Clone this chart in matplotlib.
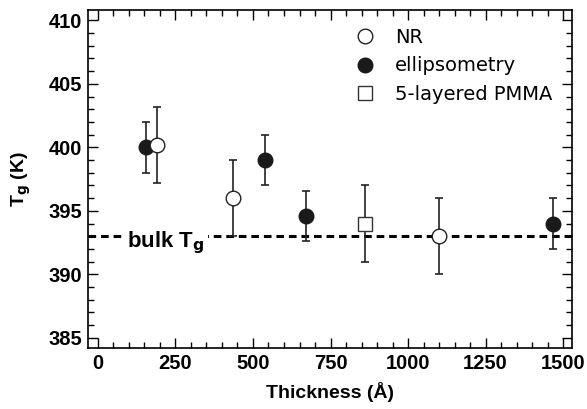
import matplotlib
matplotlib.use("Agg")
import matplotlib.pyplot as plt
from matplotlib.ticker import MultipleLocator

# data
nr_thick = [189, 435, 1100]
nr_tg = [400.2, 396.0, 393.0]
nr_err = [3.0, 3.0, 3.0]

ell_thick = [155, 539, 671, 1469]
ell_tg = [400.0, 399.0, 394.6, 394.0]
ell_err = [2.0, 2.0, 2.0, 2.0]

pmma_thick = [861]
pmma_tg = [394.0]
pmma_err = [3.0]

bulk_tg = 393.0

plt.rcParams['font.family'] = ['Liberation Sans', 'DejaVu Sans']

fig = plt.figure(figsize=(5.87, 4.09), dpi=100)
ax = fig.add_axes([0.150, 0.149, 0.8245, 0.826])

# bulk Tg dashed line
ax.axhline(bulk_tg, color='black', lw=2.2, ls=(0, (2.5, 1.6)), zorder=1)
ax.text(95, 392.15, "bulk T$_\\mathbf{g}$", fontsize=16, fontweight='bold',
        va='baseline', ha='left', zorder=2,
        bbox=dict(facecolor='white', edgecolor='none', pad=2))

ebkw = dict(fmt='none', ecolor='#222222', elinewidth=1.2, capsize=3, capthick=1.2, zorder=3)
ax.errorbar(ell_thick, ell_tg, yerr=ell_err, **ebkw)
ax.errorbar(nr_thick, nr_tg, yerr=nr_err, **ebkw)
ax.errorbar(pmma_thick, pmma_tg, yerr=pmma_err, **ebkw)

ax.plot(nr_thick, nr_tg, 'o', ms=10.5, mfc='white', mec='#222222', mew=1.0,
        ls='none', label='NR', zorder=5)
ax.plot(ell_thick, ell_tg, 'o', ms=10.5, mfc='#1a1a1a', mec='#1a1a1a',
        ls='none', label='ellipsometry', zorder=4)
ax.plot(pmma_thick, pmma_tg, 's', ms=10.5, mfc='white', mec='#333333', mew=1.0,
        ls='none', label='5-layered PMMA', zorder=5)

ax.set_xlim(-32, 1529)
ax.set_ylim(384.2, 410.8)
ax.xaxis.set_major_locator(MultipleLocator(250))
ax.xaxis.set_minor_locator(MultipleLocator(50))
ax.yaxis.set_major_locator(MultipleLocator(5))
ax.yaxis.set_minor_locator(MultipleLocator(1))
ax.tick_params(which='both', direction='in', top=True, right=True, width=1)
ax.tick_params(which='major', length=7, labelsize=14.5, pad=4)
ax.tick_params(which='minor', length=4)
for lab in ax.get_xticklabels() + ax.get_yticklabels():
    lab.set_fontweight('bold')
for s in ax.spines.values():
    s.set_linewidth(1.2)

ax.set_xlabel("Thickness (Å)", fontsize=14, fontweight='bold', labelpad=7)
ax.set_ylabel("T$_\\mathbf{g}$ (K)", fontsize=14, fontweight='bold', labelpad=11)

ax.legend(loc='upper left', bbox_to_anchor=(0.552, 0.947), frameon=False,
          prop={'family': 'DejaVu Sans', 'size': 14}, handlelength=1.0,
          handletextpad=1.05, labelspacing=0.48, borderpad=0, borderaxespad=0)

fig.savefig("out.png", dpi=100)
